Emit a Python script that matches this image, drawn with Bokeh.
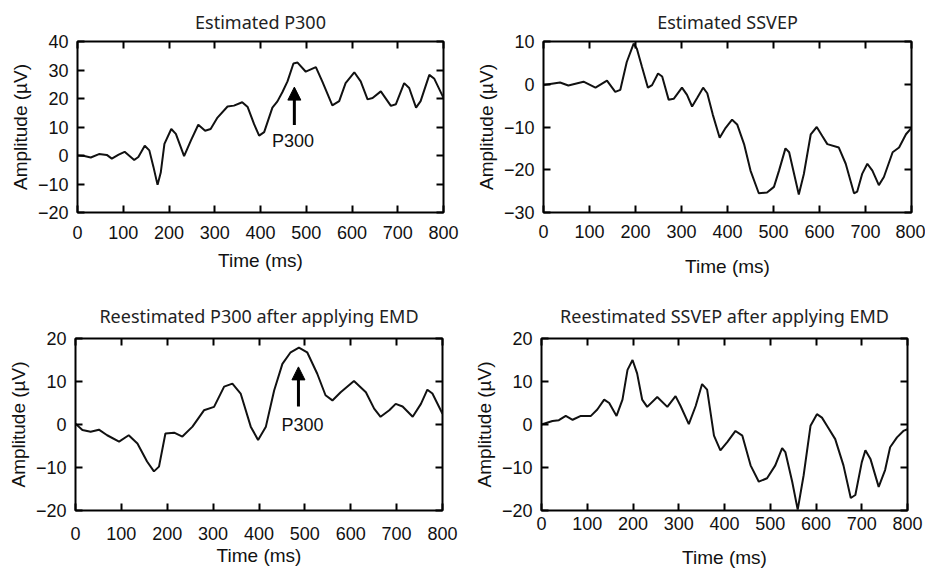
from bokeh.plotting import figure
from bokeh.layouts import column, row
from bokeh.models import LinearAxis, Range1d, Arrow, NormalHead, Label, FixedTicker, CustomJSTickFormatter
from bokeh.embed import file_html
from bokeh.resources import INLINE

# ---------------- data ----------------
time_ticks = [0, 100, 200, 300, 400, 500, 600, 700, 800]

p300_t = [0, 15, 29, 47, 64, 75, 90, 103, 124, 133, 147, 157, 166, 175, 182, 190, 205, 215, 233, 248,
          264, 279, 291, 306, 328, 342, 360, 372, 386, 397, 408, 426, 437, 448, 459, 472, 481, 499,
          521, 535, 557, 572, 586, 605, 619, 634, 645, 663, 685, 696, 714, 725, 740, 750, 769, 780, 800]
p300_v = [0, -0.2, -0.7, 0.5, 0.2, -1.1, 0.3, 1.3, -1.6, -0.5, 3.4, 1.8, -4, -10.3, -6, 4.1, 9.3, 7.6, -0.2, 5.3,
          10.8, 8.7, 9.3, 13.3, 17.2, 17.5, 18.7, 17, 11, 7.0, 8.2, 16.8, 19, 22.3, 26, 32.3, 32.6, 29.4,
          31, 26, 17.6, 19.1, 25.4, 29.2, 26, 19.7, 20.2, 22.5, 17.4, 18, 25.4, 23.7, 16.8, 19.1, 28.3, 26.9, 20.2]

ssvep_t = [0, 36, 54, 87, 113, 138, 156, 167, 181, 196, 203, 214, 227, 236, 249, 258, 272, 283, 301, 312,
           323, 334, 347, 356, 368, 383, 396, 410, 421, 436, 450, 468, 486, 501, 512, 526, 534, 555, 566,
           581, 594, 606, 617, 642, 657, 675, 682, 693, 704, 715, 729, 740, 759, 773, 788, 800]
ssvep_v = [-0.15, 0.4, -0.3, 0.6, -0.8, 0.85, -1.8, -1.3, 5.2, 9.5, 8.3, 4.1, -0.8, -0.2, 2.5, 1.8, -3.6, -3.4, -0.8, -2.5,
           -5.2, -3.2, -0.8, -2.1, -7.1, -12.5, -10.2, -8.3, -9.4, -14, -20.2, -25.5, -25.3, -24, -20.2, -15, -15.9, -25.8, -21,
           -11.7, -10, -12.1, -14, -14.8, -18.6, -25.5, -25.1, -20.9, -18.6, -20.2, -23.6, -21.7, -15.9, -14.8, -11.7, -10.2]

p300_emd_t = [0, 15, 33, 51, 69, 95, 116, 135, 156, 171, 182, 196, 215, 233, 255, 280, 302, 324, 342, 360,
              382, 398, 415, 433, 451, 469, 487, 505, 527, 545, 560, 578, 607, 633, 651, 665, 684, 698,
              713, 735, 753, 767, 778, 800]
p300_emd_v = [0.2, -1.3, -1.7, -1.2, -2.5, -4.0, -2.5, -4.4, -8.6, -10.9, -9.8, -2.1, -1.9, -2.8, -0.5, 3.3, 4.1, 8.8, 9.5, 7.2,
              -0.5, -3.6, -0.5, 7.9, 14.1, 16.8, 17.9, 16.8, 11.8, 6.8, 5.6, 7.5, 10.1, 7.5, 3.7, 1.8, 3.3, 4.8,
              4.2, 1.8, 4.8, 8.1, 7.2, 2.5]

ssvep_emd_t = [0, 24, 38, 53, 68, 86, 108, 122, 137, 148, 164, 177, 188, 199, 209, 220, 231, 253, 275, 293,
               304, 322, 337, 351, 362, 377, 391, 406, 424, 439, 457, 475, 493, 511, 526, 533, 548, 560, 573,
               588, 602, 613, 624, 642, 660, 676, 686, 700, 708, 719, 737, 751, 762, 777, 791, 800]
ssvep_emd_v = [0, 0.8, 1.0, 2.0, 1.1, 2.0, 2.0, 3.5, 5.8, 5.0, 2.0, 5.8, 12.7, 15.0, 11.9, 5.8, 4.1, 6.4, 4.1, 6.6,
               4.3, 0.1, 4.3, 9.4, 8.1, -2.6, -6.0, -4.1, -1.5, -2.6, -9.5, -13.3, -12.5, -9.5, -5.5, -6.4, -13.3, -19.8, -11.8,
               -0.3, 2.4, 1.6, -0.3, -3.4, -9.5, -17.1, -16.4, -8.8, -6.0, -8.0, -14.5, -10.6, -5.3, -3.0, -1.5, -1.1]

TICK_FONT = "Liberation Sans"
TITLE_FONT = "Noto Sans"
INK = "#111111"


def style_axis(ax, labels=True):
    ax.axis_line_color = None
    ax.major_tick_in = 7
    ax.major_tick_out = 0
    ax.major_tick_line_width = 2
    ax.major_tick_line_color = "black"
    ax.minor_tick_line_color = None
    if labels:
        ax.major_label_text_font = TICK_FONT
        ax.major_label_text_font_size = "18px"
        ax.major_label_text_color = INK
        ax.axis_label_text_font = TICK_FONT
        ax.axis_label_text_font_size = "19px"
        ax.axis_label_text_font_style = "normal"
        ax.axis_label_text_color = INK
    else:
        ax.formatter = CustomJSTickFormatter(code="return ''")
        ax.major_label_text_font_size = "1px"
        ax.major_label_standoff = 0


def make_panel(title, t, v, ylo, yhi, yticks, size, borders, xstand, ystand, tstand):
    width, height = size
    left, right, top, bottom = borders
    p = figure(width=width, height=height, x_range=Range1d(0, 800), y_range=Range1d(ylo, yhi),
               output_backend="svg", toolbar_location=None,
               min_border_left=left, min_border_right=right,
               min_border_top=top, min_border_bottom=bottom)
    p.title.text = title
    p.title.align = "center"
    p.title.text_font = TITLE_FONT
    p.title.text_font_size = "18px"
    p.title.text_font_style = "normal"
    p.title.text_color = "#222222"
    p.title.standoff = tstand
    p.outline_line_color = "black"
    p.outline_line_width = 2
    p.outline_line_alpha = 1
    p.xgrid.grid_line_color = None
    p.ygrid.grid_line_color = None

    p.xaxis.ticker = FixedTicker(ticks=time_ticks)
    p.yaxis.ticker = FixedTicker(ticks=yticks)
    p.xaxis.axis_label = "Time (ms)"
    p.yaxis.axis_label = "Amplitude (\u00b5V)"
    style_axis(p.xaxis[0])
    style_axis(p.yaxis[0])
    p.xaxis.major_label_standoff = xstand[0]
    p.xaxis.axis_label_standoff = xstand[1]
    p.yaxis.major_label_standoff = ystand[0]
    p.yaxis.axis_label_standoff = ystand[1]

    top_ax = LinearAxis(ticker=FixedTicker(ticks=time_ticks))
    right_ax = LinearAxis(ticker=FixedTicker(ticks=yticks))
    style_axis(top_ax, labels=False)
    style_axis(right_ax, labels=False)
    p.add_layout(top_ax, "above")
    p.add_layout(right_ax, "right")

    p.line(t, v, line_color=INK, line_width=2)
    return p


p1 = make_panel("Estimated P300", p300_t, p300_v, -20, 40, [-20, -10, 0, 10, 20, 30, 40],
                (468, 288), (77, 25, 39, 75), (13, 8), (9, 4), 15)
p2 = make_panel("Estimated SSVEP", ssvep_t, ssvep_v, -30, 10, [-30, -20, -10, 0, 10],
                (457, 288), (75, 14, 40, 76), (12, 15), (9, 4), 15)
p3 = make_panel("Reestimated P300 after applying EMD", p300_emd_t, p300_emd_v, -20, 20, [-20, -10, 0, 10, 20],
                (468, 282), (75, 26, 49, 59), (16, 2), (9, 4), 22)
p4 = make_panel("Reestimated SSVEP after applying EMD", ssvep_emd_t, ssvep_emd_v, -20, 20, [-20, -10, 0, 10, 20],
                (457, 282), (73, 18, 50, 57), (6, 14), (9, 4), 22)

# P300 annotations
for p, ax_x, tip_y, tail_y, lab_x, lab_y in [(p1, 474, 24, 10.7, 471, 5.0), (p3, 486, 13.4, 4.2, 495, 0)]:
    p.add_layout(Arrow(end=NormalHead(size=13, fill_color="black", line_color="black"),
                       x_start=ax_x, y_start=tail_y, x_end=ax_x, y_end=tip_y,
                       line_width=3, line_color="black"))
    p.add_layout(Label(x=lab_x, y=lab_y, text="P300", text_align="center", text_baseline="middle",
                       text_font=TICK_FONT, text_font_size="18px", text_color=INK))

layout = column(row(p1, p2), row(p3, p4))

with open("out.html", "w") as f:
    f.write(file_html(layout, INLINE))
